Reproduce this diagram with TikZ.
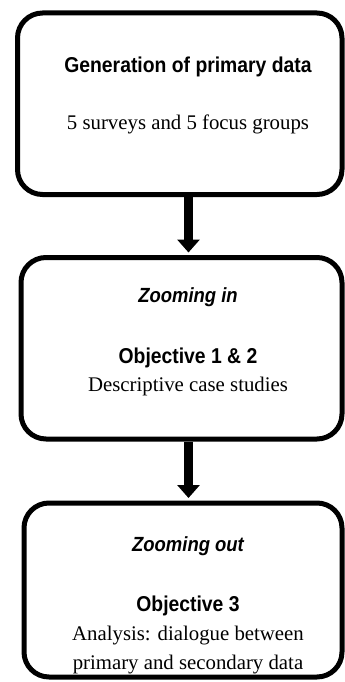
\documentclass[tikz,border=0pt]{standalone}
\usepackage{fontspec}
\setmainfont{Liberation Serif}
\newfontfamily\hdfont[FakeStretch=0.9]{Liberation Sans}
\usetikzlibrary{arrows.meta}
\tikzset{
  box/.style={draw=black, line width=5pt, rounded corners=25pt, inner sep=0pt, fill=white},
  head/.style={anchor=base, inner sep=0pt, font=\hdfont\bfseries\fontsize{21.5pt}{24pt}\selectfont},
  headit/.style={anchor=base, inner sep=0pt, font=\hdfont\bfseries\itshape\fontsize{20.5pt}{24pt}\selectfont},
  body/.style={anchor=base, inner sep=0pt, font=\fontsize{20.8pt}{24pt}\selectfont},
  arr/.style={line width=9pt, -{Triangle[width=22pt,length=13pt]}, shorten >=2.5pt}
}
\begin{document}
\begin{tikzpicture}[x=1pt,y=-1pt]
\useasboundingbox (0,0) rectangle (345,682);
% boxes
\node[box, minimum width=324.5pt, minimum height=181.5pt] (b1) at (179.75,103.75) {};
\node[box, minimum width=321pt, minimum height=181.5pt] (b2) at (181.5,348.25) {};
\node[box, minimum width=318pt, minimum height=174pt] (b3) at (183,590) {};
% texts
\node[head] (t1) at (188,72.7) {Generation of primary data};
\node[body] (t2) at (188,129.5) {5 surveys and 5 focus groups};
\node[headit] (t3) at (188,302.7) {Zooming in};
\node[head] (t4) at (188,363.5) {Objective 1 \& 2};
\node[body] (t5) at (188,391.7) {Descriptive case studies};
\node[headit] (t6) at (188,551.7) {Zooming out};
\node[head] (t7) at (188,611.7) {Objective 3};
\node[body] (t8) at (188,640.5) {Analysis: dialogue between};
\node[body] (t9) at (188,669.5) {primary and secondary data};
% arrows
\coordinate (ax) at (188.5,0);
\draw[arr] (b1.south -| ax) -- (b2.north -| ax);
\draw[arr] (b2.south -| ax) -- (b3.north -| ax);
\end{tikzpicture}
\end{document}
